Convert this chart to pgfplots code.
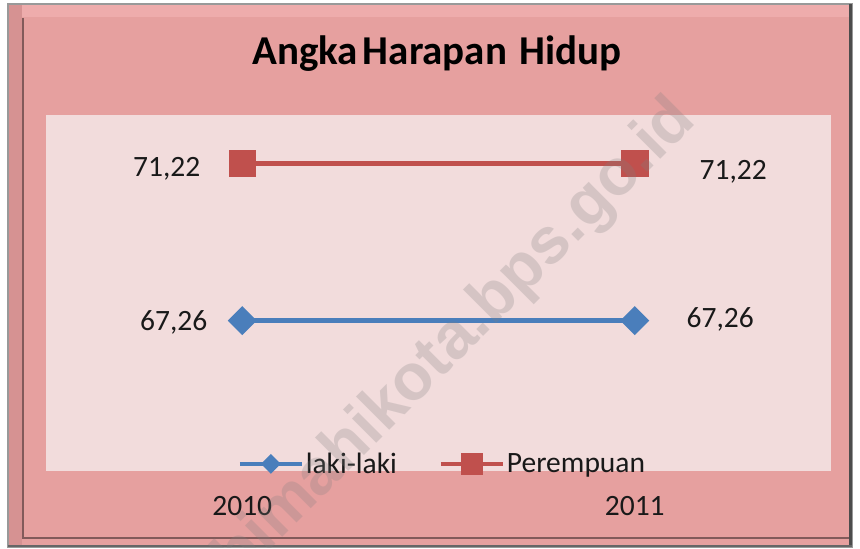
\documentclass[border=0pt]{standalone}
\usepackage{pgfplots}
\pgfplotsset{compat=1.18}
\usepackage{fontspec}
\setmainfont{Carlito}
\newfontfamily\wmfont{Liberation Sans}
\definecolor{outerbg}{RGB}{230,160,159}
\definecolor{plotbg}{RGB}{242,220,220}
\definecolor{lblue}{RGB}{74,126,187}
\definecolor{lred}{RGB}{192,80,77}
\definecolor{txt}{RGB}{25,25,25}
\definecolor{bevdark}{RGB}{130,90,90}
\definecolor{bevleft}{RGB}{214,146,146}
\definecolor{bevtop}{RGB}{238,172,172}
\begin{document}
\begin{tikzpicture}[x=1pt,y=1pt]
\fill[white] (0,0) rectangle (860,548);
% frame
\fill[outerbg] (8,1) rectangle (852,544);
\fill[bevtop] (9,531) rectangle (851,543);
\fill[bevleft] (9,2) rectangle (22,543);
\draw[bevdark, line width=2.5pt] (23,530) -- (23,10) -- (849,10);
\draw[gray!80, line width=1.5pt] (8,1) rectangle (852,544);
\draw[black!70, line width=3pt] (850,1) -- (850,544);
\draw[black!60, line width=2.5pt] (8,2) -- (852,2);
% title
\node[anchor=base west, inner sep=0pt, text=black, font=\fontsize{41}{42}\selectfont\bfseries]
  at (252,483) {Angka\hspace{5pt}Harapan\hspace{12pt}Hidup};
\begin{axis}[
  at={(46pt,77pt)}, anchor=south west, scale only axis,
  width=785pt, height=356pt,
  xmin=-0.5, xmax=1.5, ymin=63.479, ymax=72.435,
  axis line style={draw=none},
  axis background/.style={fill=plotbg},
  ytick=\empty,
  xtick={0,1}, xticklabels={2010,2011},
  major tick length=0pt,
  xticklabel style={anchor=center, yshift=-35.5pt, text=txt, font=\fontsize{29.5}{30}\selectfont},
  clip=false,
  legend columns=2,
  legend style={at={(0.505,0.02)}, anchor=center, draw=none, fill=none,
    font=\fontsize{29.5}{30}\selectfont, text=txt,
    /tikz/every even column/.append style={column sep=40pt}},
  legend image code/.code={
    \draw[mark repeat=2, mark phase=2, #1] plot coordinates {(0pt,0pt) (31pt,0pt) (62pt,0pt)};
  },
]
\addlegendimage{lblue, line width=4pt, mark=square*, mark size=5pt, mark options={solid, rotate=45}}
\addlegendentry{laki-laki}
\addlegendimage{lred, line width=4pt, mark=square*, mark size=9pt, mark options={solid}}
\addlegendentry{Perempuan}
\addplot[forget plot, lblue, line width=4.5pt, mark=square*, mark size=8pt, mark options={solid, rotate=45}]
  coordinates {(0,67.26) (1,67.26)};
\addplot[forget plot, lred, line width=4.5pt, mark=square*, mark size=11.5pt, mark options={solid}]
  coordinates {(0,71.22) (1,71.22)};
% data labels
\pgfplotsset{lbl/.style={forget plot, draw=none, mark=none,
   every node near coord/.append style={inner sep=0pt, text=txt, font=\fontsize{29.5}{30}\selectfont}}}
\addplot[lbl, nodes near coords={71{,}22},
   every node near coord/.append style={anchor=base east, xshift=-41.7pt, yshift=-13.7pt}]
   coordinates {(0,71.22)};
\addplot[lbl, nodes near coords={71{,}22},
   every node near coord/.append style={anchor=base west, xshift=64.7pt, yshift=-16.7pt}]
   coordinates {(1,71.22)};
\addplot[lbl, nodes near coords={67{,}26},
   every node near coord/.append style={anchor=base east, xshift=-34.7pt, yshift=-10pt}]
   coordinates {(0,67.26)};
\addplot[lbl, nodes near coords={67{,}26},
   every node near coord/.append style={anchor=base west, xshift=51.7pt, yshift=-6.3pt}]
   coordinates {(1,67.26)};
\end{axis}
% watermark
\begin{scope}
\clip (0,0) rectangle (860,548);
\node[anchor=base, rotate=45, inner sep=0pt, text=gray, opacity=0.25,
  font=\wmfont\bfseries\fontsize{65}{66}\selectfont] at (468,196) {bimahikota.bps.go.id};
\end{scope}
\end{tikzpicture}
\end{document}
